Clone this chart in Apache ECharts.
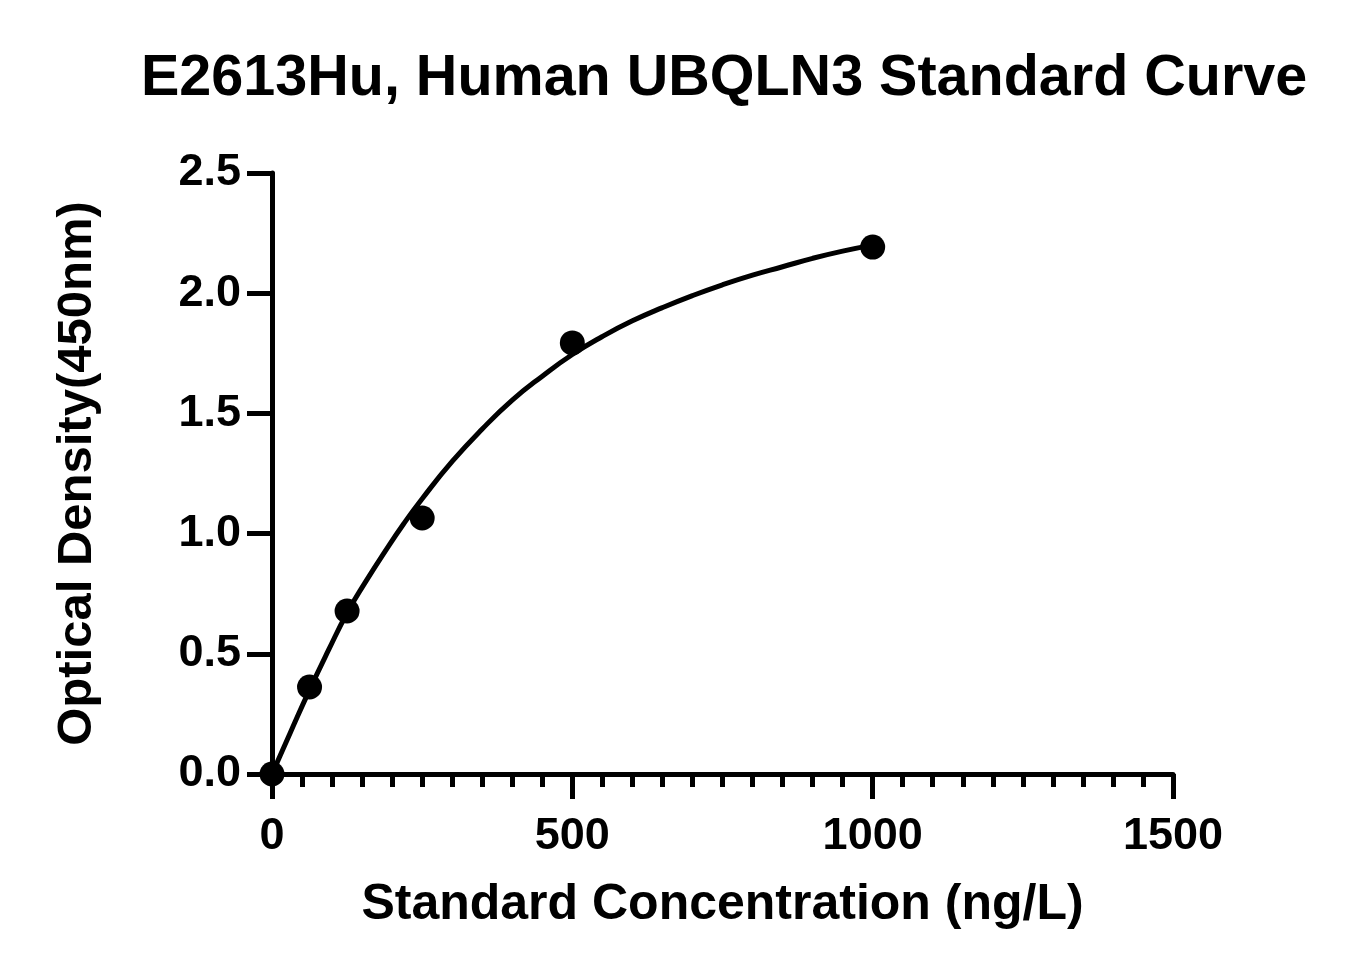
<!DOCTYPE html>
<html>
<head>
<meta charset="utf-8">
<script src="https://cdn.jsdelivr.net/npm/echarts@6/dist/echarts.min.js"></script>
<style>html,body{margin:0;padding:0;background:#fff;}#c{width:1353px;height:975px;}</style>
</head>
<body>
<div id="c"></div>
<script>
const titleText = 'E2613Hu, Human UBQLN3 Standard Curve';
const xName = 'Standard Concentration (ng/L)';
const yName = 'Optical Density(450nm)';
const concentrations = [0, 62.5, 125, 250, 500, 1000];
const odValues = [0.0, 0.362, 0.678, 1.065, 1.793, 2.192];
const curveX = [0, 31, 62.5, 94, 125, 156, 188, 219, 250, 300, 350, 400, 450, 500, 550, 600, 650, 700, 750, 800, 850, 900, 950, 1000];
const curveY = [0, 0.175, 0.35, 0.515, 0.67, 0.80, 0.925, 1.04, 1.145, 1.30, 1.435, 1.555, 1.655, 1.745, 1.82, 1.885, 1.94, 1.99, 2.035, 2.075, 2.11, 2.145, 2.175, 2.20];

const FONT = '"Liberation Sans", Arial, sans-serif';
const chart = echarts.init(document.getElementById('c'));
chart.setOption({
  backgroundColor: '#fff',
  animation: false,
  title: {
    text: titleText, left: 136, top: 45,
    textStyle: { fontFamily: FONT, fontWeight: 'bold', fontSize: 57.5, color: '#000' }
  },
  grid: { left: 272, right: 180, top: 173, bottom: 201, containLabel: false, outerBoundsMode: 'none' },
  xAxis: {
    type: 'value', min: 0, max: 1500, interval: 500,
    name: xName, nameLocation: 'middle', nameGap: 106,
    nameTextStyle: { fontFamily: FONT, fontWeight: 'bold', fontSize: 50, color: '#000' },
    axisLine: { onZero: false, lineStyle: { color: '#000', width: 5 } },
    axisTick: { length: 25, lineStyle: { color: '#000', width: 5 } },
    minorTick: { show: true, splitNumber: 10, length: 13, lineStyle: { color: '#000', width: 5 } },
    axisLabel: { margin: 40, fontFamily: FONT, fontWeight: 'bold', fontSize: 45, color: '#000',
      formatter: v => String(v) },
    splitLine: { show: false }
  },
  yAxis: {
    type: 'value', min: 0, max: 2.5, interval: 0.5,
    name: yName, nameLocation: 'middle', nameGap: 170,
    nameTextStyle: { fontFamily: FONT, fontWeight: 'bold', fontSize: 49, color: '#000' },
    axisLine: { onZero: false, lineStyle: { color: '#000', width: 5 } },
    axisTick: { length: 25, lineStyle: { color: '#000', width: 5 } },
    axisLabel: { margin: 31, fontFamily: FONT, fontWeight: 'bold', fontSize: 45, color: '#000',
      formatter: v => v.toFixed(1) },
    splitLine: { show: false }
  },
  series: [
    {
      type: 'line', data: curveX.map((x, i) => [x, curveY[i]]),
      smooth: 0.5, showSymbol: false, symbol: 'none',
      lineStyle: { color: '#000', width: 5 }, z: 2
    },
    {
      type: 'scatter', data: concentrations.map((x, i) => [x, odValues[i]]),
      symbol: 'circle', symbolSize: 25, itemStyle: { color: '#000', opacity: 1 }, z: 3
    }
  ]
});
</script>
</body>
</html>
